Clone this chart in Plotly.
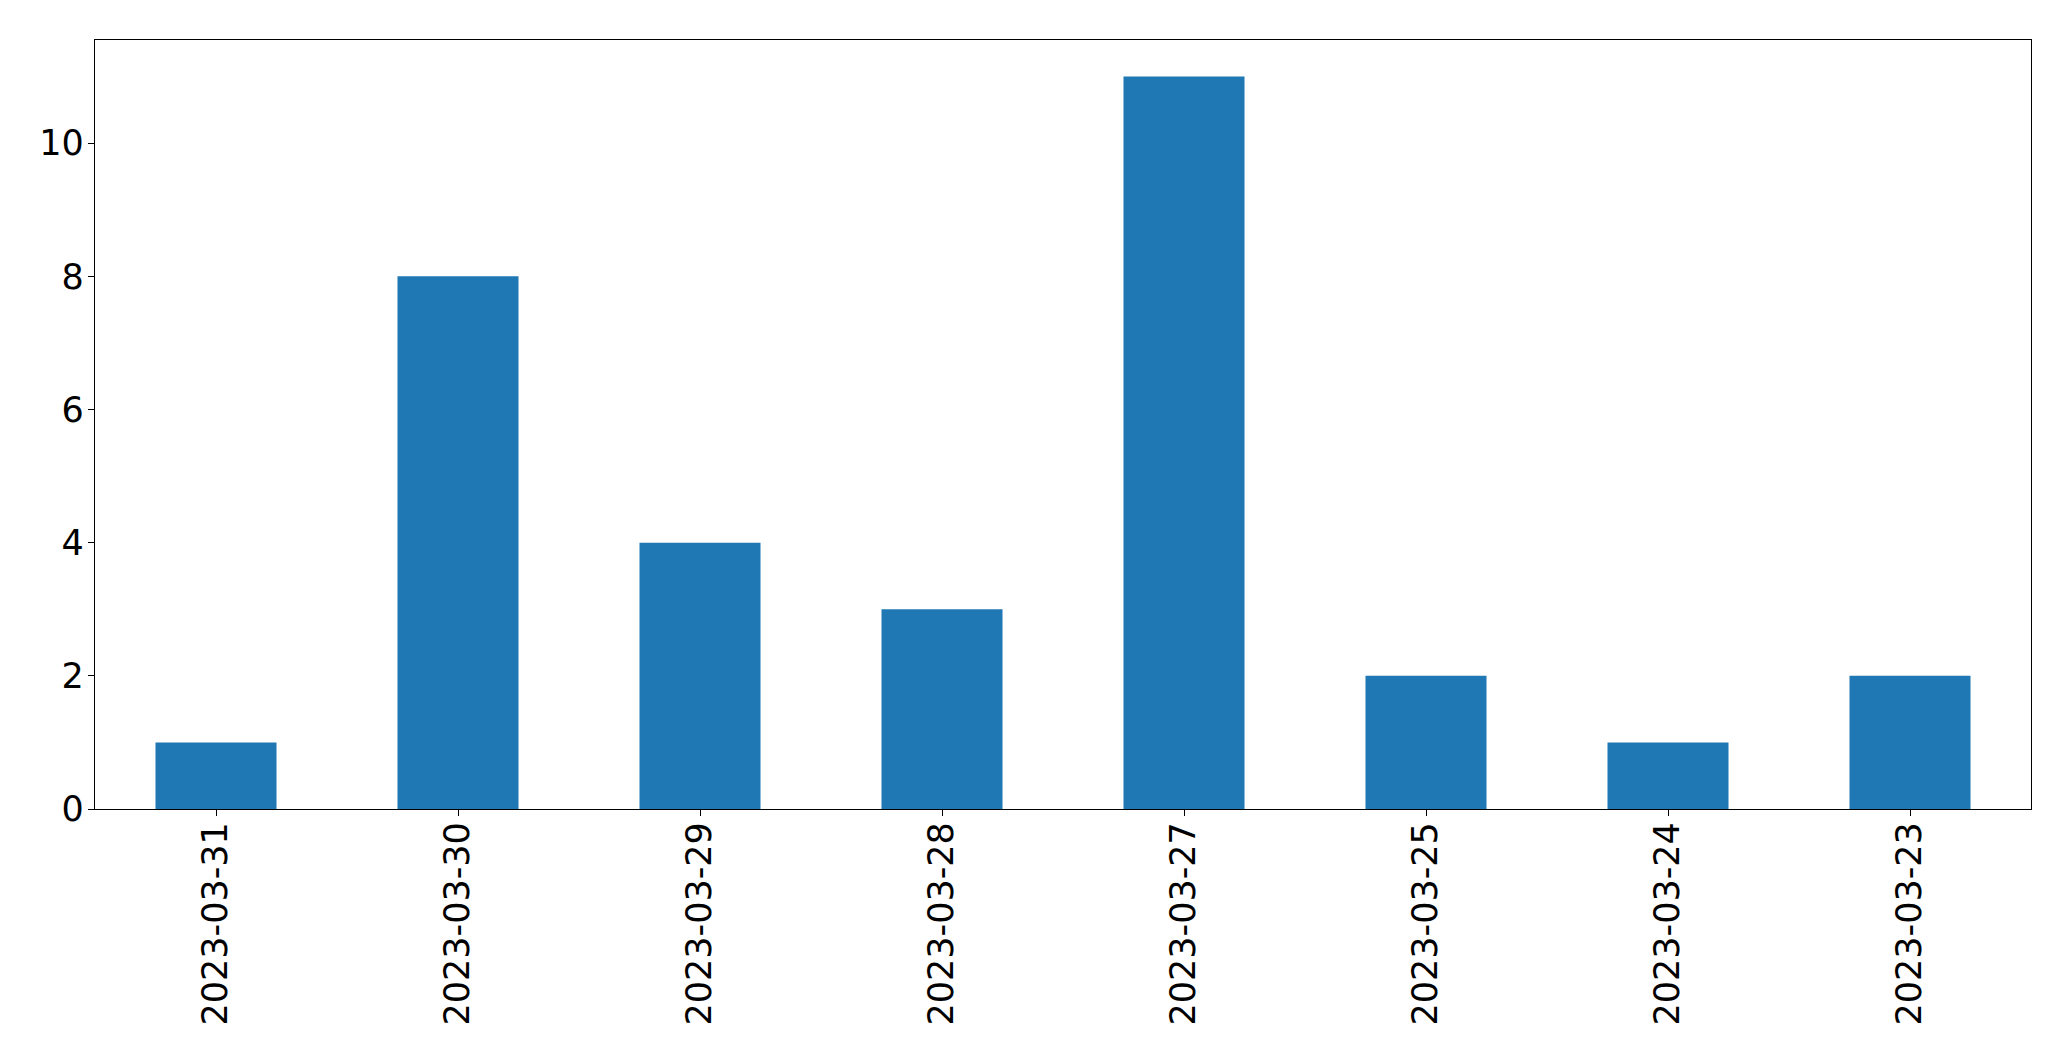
import plotly.graph_objects as go

dates = ["2023-03-31", "2023-03-30", "2023-03-29", "2023-03-28",
         "2023-03-27", "2023-03-25", "2023-03-24", "2023-03-23"]
counts = [1, 8, 4, 3, 11, 2, 1, 2]
y_ticks = [0, 2, 4, 6, 8, 10]

fig = go.Figure(go.Bar(x=dates, y=counts, width=0.5, marker_color="#1f77b4",
                       marker_line_width=0))

axis_common = dict(showline=True, linecolor="black", linewidth=1.3, mirror=True,
                   ticks="outside", ticklen=6, tickwidth=1.3, tickcolor="black",
                   showgrid=False, zeroline=False,
                   tickfont=dict(family="DejaVu Sans", size=35, color="black"))

fig.update_layout(
    width=2071, height=1061,
    margin=dict(l=94.5, r=39.5, t=39.5, b=252, pad=0),
    plot_bgcolor="white", paper_bgcolor="white",
    showlegend=False,
    xaxis=dict(type="category", range=[-0.5, 7.5], tickangle=-90,
               ticklabelstandoff=-8, **axis_common),
    yaxis=dict(range=[0, 11.55], tickvals=y_ticks, ticklabelstandoff=-3,
               **axis_common),
)

fig.write_html("out.html", config={"displayModeBar": False},
               post_script="document.body.style.margin='0';document.body.style.padding='0';")
